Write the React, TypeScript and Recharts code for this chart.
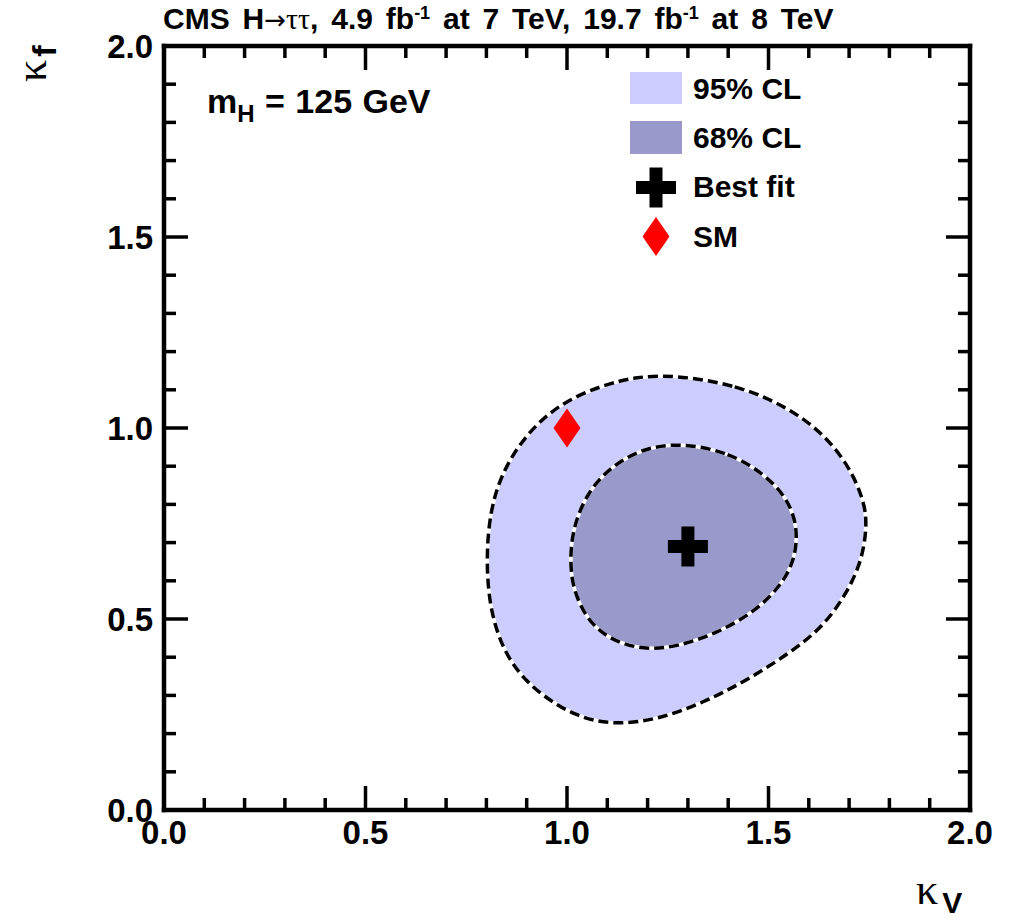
import React from 'react'
import { ScatterChart, Scatter, XAxis, YAxis, Legend } from 'recharts'

// kappa_V / kappa_f axis ticks (minor every 0.1, labelled every 0.5)
const axisTicks = [0, 0.1, 0.2, 0.3, 0.4, 0.5, 0.6, 0.7, 0.8, 0.9, 1, 1.1, 1.2, 1.3, 1.4, 1.5, 1.6, 1.7, 1.8, 1.9, 2]
const majorTicks = [0, 0.5, 1, 1.5, 2]

const cl95Kv = [1.263, 1.422, 1.546, 1.635, 1.702, 1.739, 1.744, 1.732, 1.695, 1.635, 1.553, 1.447, 1.337, 1.223, 1.114, 1.025, 0.926, 0.851, 0.809, 0.799, 0.809, 0.841, 0.901, 0.983, 1.089, 1.174]
const cl95Kf = [1.139, 1.113, 1.055, 0.987, 0.898, 0.804, 0.741, 0.654, 0.568, 0.479, 0.411, 0.34, 0.28, 0.236, 0.223, 0.243, 0.306, 0.393, 0.516, 0.654, 0.785, 0.89, 0.987, 1.065, 1.113, 1.134]

// 68% CL contour
const cl68Kv = [1.288, 1.404, 1.486, 1.546, 1.573, 1.566, 1.529, 1.462, 1.372, 1.273, 1.189, 1.107, 1.05, 1.015, 1.007, 1.015, 1.05, 1.107, 1.189]
const cl68Kf = [0.961, 0.935, 0.882, 0.819, 0.741, 0.654, 0.584, 0.516, 0.463, 0.427, 0.419, 0.445, 0.497, 0.576, 0.654, 0.741, 0.83, 0.898, 0.948]

const bestFitKv = [1.3]
const bestFitKf = [0.69]
const smKv = [1.0]
const smKf = [1.0]

const legendLabels = ['95% CL', '68% CL', 'Best fit', 'SM']

const FONT = '"Liberation Sans", Arial, Helvetica, sans-serif'
const SERIF = '"Liberation Serif", "DejaVu Serif", serif'
const C95 = '#ccccff'
const C68 = '#9999cc'

const toPoints = (kv: number[], kf: number[]) => kv.map((v, i) => ({ kv: v, kf: kf[i] }))
const cl95 = toPoints(cl95Kv, cl95Kf)
const cl68 = toPoints(cl68Kv, cl68Kf)
const bestFit = toPoints(bestFitKv, bestFitKf)
const sm = toPoints(smKv, smKf)

const isMajor = (v: number) => majorTicks.some((m) => Math.abs(m - v) < 1e-6)
const tickLen = (v: number) => (isMajor(v) ? 24 : 12)
const TICK_W = 3.5
const frame = { stroke: '#000', strokeWidth: 4.5, strokeLinecap: 'square' as const }

function BottomTick({ x, y, payload }: any) {
  const v = payload.value
  return (
    <g>
      <line x1={x} x2={x} y1={y} y2={y - tickLen(v)} stroke="#000" strokeWidth={TICK_W} />
      {isMajor(v) && (
        <text x={x} y={y + 34} textAnchor="middle" fontFamily={FONT} fontWeight="bold" fontSize={33} fill="#000">
          {v.toFixed(1)}
        </text>
      )}
    </g>
  )
}

function TopTick({ x, y, payload }: any) {
  return <line x1={x} x2={x} y1={y} y2={y + tickLen(payload.value)} stroke="#000" strokeWidth={TICK_W} />
}

function LeftTick({ x, y, payload }: any) {
  const v = payload.value
  return (
    <g>
      <line x1={x} x2={x + tickLen(v)} y1={y} y2={y} stroke="#000" strokeWidth={TICK_W} />
      {isMajor(v) && (
        <text x={x - 11} y={y + 12} textAnchor="end" fontFamily={FONT} fontWeight="bold" fontSize={33} fill="#000">
          {v.toFixed(1)}
        </text>
      )}
    </g>
  )
}

function RightTick({ x, y, payload }: any) {
  return <line x1={x} x2={x - tickLen(payload.value)} y1={y} y2={y} stroke="#000" strokeWidth={TICK_W} />
}

const NoPoint = () => <g />

function Cross({ cx, cy }: any) {
  const a = 20
  const t = 6.5
  return (
    <path
      d={`M${cx - t},${cy - a}H${cx + t}V${cy - t}H${cx + a}V${cy + t}H${cx + t}V${cy + a}H${cx - t}V${cy + t}H${cx - a}V${cy - t}H${cx - t}Z`}
      fill="#000"
    />
  )
}

function Diamond({ cx, cy }: any) {
  return <path d={`M${cx},${cy - 19.5}L${cx + 13.5},${cy}L${cx},${cy + 19.5}L${cx - 13.5},${cy}Z`} fill="#ff0000" />
}

function LegendSymbol({ i }: { i: number }) {
  return (
    <svg width={52} height={49}>
      {i === 0 && <rect x={0} y={8} width={52} height={32} fill={C95} />}
      {i === 1 && <rect x={0} y={8} width={52} height={33} fill={C68} />}
      {i === 2 && <Cross cx={26} cy={24.5} />}
      {i === 3 && <Diamond cx={26} cy={24.5} />}
    </svg>
  )
}

function LegendBox() {
  return (
    <div style={{ fontFamily: FONT, fontWeight: 'bold', fontSize: 30, color: '#000' }}>
      {legendLabels.map((label, i) => (
        <div key={label} style={{ display: 'flex', alignItems: 'center', height: 49.3 }}>
          <LegendSymbol i={i} />
          <span style={{ marginLeft: 11 }}>{label}</span>
        </div>
      ))}
    </div>
  )
}

export default function App() {
  return (
    <div style={{ position: 'absolute', left: 0, top: 0, width: 1014, height: 920, background: '#fff' }}>
      <div
        style={{
          position: 'absolute',
          left: 163,
          top: 4,
          fontFamily: FONT,
          fontWeight: 'bold',
          fontSize: 30,
          lineHeight: 1,
          wordSpacing: 4.5,
          whiteSpace: 'nowrap',
        }}
      >
        CMS H<span style={{ fontFamily: '"DejaVu Sans", sans-serif', fontWeight: 'normal', fontSize: 26 }}>→</span>
        <span style={{ fontFamily: SERIF, fontWeight: 'normal' }}>ττ</span>, 4.9 fb
        <span style={{ fontSize: 18, verticalAlign: 'top' }}>-1</span> at 7 TeV, 19.7 fb
        <span style={{ fontSize: 18, verticalAlign: 'top' }}>-1</span> at 8 TeV
      </div>

      <div
        style={{
          position: 'absolute',
          left: 207,
          top: 84,
          fontFamily: FONT,
          fontWeight: 'bold',
          fontSize: 34,
          lineHeight: 1,
          wordSpacing: 1,
          whiteSpace: 'nowrap',
        }}
      >
        m<span style={{ fontSize: 24, position: 'relative', top: 9 }}>H</span> = 125 GeV
      </div>

      <div style={{ position: 'absolute', left: 916, top: 868, whiteSpace: 'nowrap', lineHeight: 1 }}>
        <span style={{ fontFamily: SERIF, fontSize: 44 }}>κ</span>
        <span style={{ fontFamily: FONT, fontWeight: 'bold', fontSize: 30, position: 'relative', top: 9, marginLeft: 4 }}>V</span>
      </div>

      <div
        style={{
          position: 'absolute',
          left: 10,
          top: 22,
          whiteSpace: 'nowrap',
          lineHeight: 1,
          transform: 'rotate(-90deg)',
          transformOrigin: '30px 30px',
        }}
      >
        <span style={{ fontFamily: SERIF, fontSize: 44 }}>κ</span>
        <span style={{ fontFamily: FONT, fontWeight: 'bold', fontSize: 34, position: 'relative', top: 10, marginLeft: 3 }}>f</span>
      </div>

      <ScatterChart width={1014} height={920} margin={{ top: 45, right: 43, bottom: 109, left: 163 }}>
        <XAxis
          xAxisId="bottom"
          type="number"
          dataKey="kv"
          domain={[0, 2]}
          ticks={axisTicks}
          interval={0}
          height={1}
          tickSize={0}
          tickMargin={0}
          tickLine={false}
          tick={<BottomTick />}
          axisLine={frame}
          allowDataOverflow
        />
        <XAxis
          xAxisId="top"
          orientation="top"
          type="number"
          dataKey="kv"
          domain={[0, 2]}
          ticks={axisTicks}
          interval={0}
          height={1}
          tickSize={0}
          tickMargin={0}
          tickLine={false}
          tick={<TopTick />}
          axisLine={frame}
          allowDataOverflow
        />
        <YAxis
          yAxisId="left"
          type="number"
          dataKey="kf"
          domain={[0, 2]}
          ticks={axisTicks}
          interval={0}
          width={1}
          tickSize={0}
          tickMargin={0}
          tickLine={false}
          tick={<LeftTick />}
          axisLine={frame}
          allowDataOverflow
        />
        <YAxis
          yAxisId="right"
          orientation="right"
          type="number"
          dataKey="kf"
          domain={[0, 2]}
          ticks={axisTicks}
          interval={0}
          width={1}
          tickSize={0}
          tickMargin={0}
          tickLine={false}
          tick={<RightTick />}
          axisLine={frame}
          allowDataOverflow
        />

        <Scatter
          xAxisId="bottom"
          yAxisId="left"
          data={cl95}
          shape={NoPoint}
          line={{ fill: C95, stroke: '#fff', strokeWidth: 3.5 }}
          lineType="joint"
          lineJointType="basisClosed"
          legendType="none"
          isAnimationActive={false}
        />
        <Scatter
          xAxisId="bottom"
          yAxisId="left"
          data={cl95}
          shape={NoPoint}
          line={{ fill: 'none', stroke: '#000', strokeWidth: 3.5, strokeDasharray: '10 5' }}
          lineType="joint"
          lineJointType="basisClosed"
          legendType="none"
          isAnimationActive={false}
        />
        <Scatter
          xAxisId="bottom"
          yAxisId="left"
          data={cl68}
          shape={NoPoint}
          line={{ fill: C68, stroke: '#fff', strokeWidth: 3.5 }}
          lineType="joint"
          lineJointType="basisClosed"
          legendType="none"
          isAnimationActive={false}
        />
        <Scatter
          xAxisId="bottom"
          yAxisId="left"
          data={cl68}
          shape={NoPoint}
          line={{ fill: 'none', stroke: '#000', strokeWidth: 3.5, strokeDasharray: '10 5' }}
          lineType="joint"
          lineJointType="basisClosed"
          legendType="none"
          isAnimationActive={false}
        />
        <Scatter xAxisId="bottom" yAxisId="left" data={bestFit} shape={Cross} isAnimationActive={false} />
        <Scatter xAxisId="bottom" yAxisId="left" data={sm} shape={Diamond} isAnimationActive={false} />

        <Legend
          layout="vertical"
          align="center"
          verticalAlign="middle"
          content={<LegendBox />}
          wrapperStyle={{ left: 630, top: 64, width: 260, height: 200 }}
        />
      </ScatterChart>
    </div>
  )
}
